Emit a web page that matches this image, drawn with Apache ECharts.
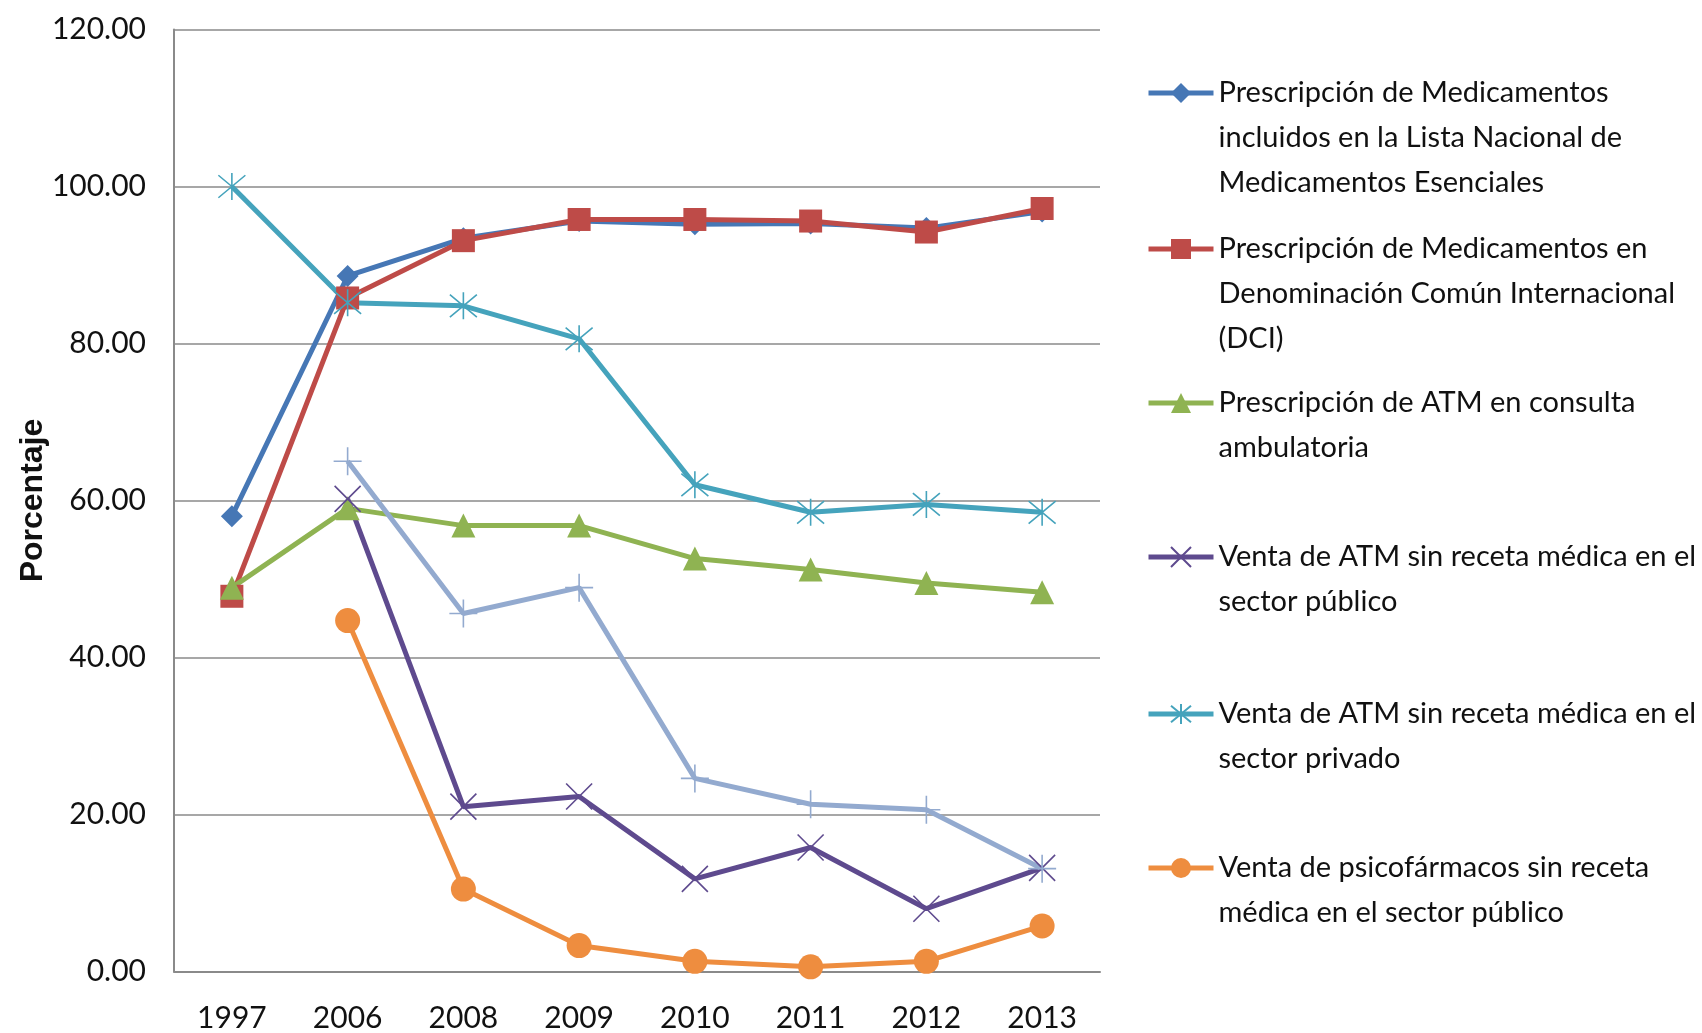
<!DOCTYPE html>
<html>
<head>
<meta charset="utf-8">
<script src="https://cdn.jsdelivr.net/npm/echarts@6/dist/echarts.min.js"></script>
<style>
html,body{margin:0;padding:0;background:#fff;}
#chart{width:1702px;height:1033px;}
</style>
</head>
<body>
<div id="chart"></div>
<script>
// ---- data ----
var categories = ['1997', '2006', '2008', '2009', '2010', '2011', '2012', '2013'];

var seriesNames = [
  'Prescripción de Medicamentos incluidos en la Lista Nacional de Medicamentos Esenciales',
  'Prescripción de Medicamentos en Denominación Común Internacional (DCI)',
  'Prescripción de ATM en consulta ambulatoria',
  'Venta de ATM sin receta médica en el sector público',
  'Venta de ATM sin receta médica en el sector privado',
  'Venta de psicofármacos sin receta médica en el sector público',
  'Serie 7'
];

var legendLines = [
  ['Prescripción de Medicamentos', 'incluidos en la Lista Nacional de', 'Medicamentos Esenciales'],
  ['Prescripción de Medicamentos en', 'Denominación Común Internacional', '(DCI)'],
  ['Prescripción de ATM en consulta', 'ambulatoria'],
  ['Venta de ATM sin receta médica en el', 'sector público'],
  ['Venta de ATM sin receta médica en el', 'sector privado'],
  ['Venta de psicofármacos sin receta', 'médica en el sector público']
];

var lnme      = [58.0, 88.6, 93.4, 95.6, 95.2, 95.3, 94.7, 96.8];
var dci       = [47.8, 85.8, 93.1, 95.8, 95.8, 95.6, 94.2, 97.2];
var atmConsulta = [48.9, 59.0, 56.8, 56.8, 52.6, 51.2, 49.5, 48.3];
var atmPublico  = [null, 60.2, 21.0, 22.3, 11.8, 15.8, 8.0, 13.2];
var atmPrivado  = [100.0, 85.2, 84.8, 80.6, 62.0, 58.5, 59.5, 58.5];
var psicoPublico = [null, 44.7, 10.5, 3.3, 1.3, 0.6, 1.3, 5.8];
var serie7       = [null, 65.0, 45.6, 48.9, 24.6, 21.3, 20.6, 13.1];

var yTicks = { min: 0, max: 120, interval: 20 };

// ---- styles ----
var colors = ['#4677B5', '#BE4B48', '#8FB352', '#5E4A8E', '#45A3BC', '#EE8D3F', '#93AACF'];
var PATH_X = 'path://M0,0L10,10M10,0L0,10';
var PATH_STAR = 'path://M0,0L10,10M10,0L0,10M5,-1L5,11';
var PATH_PLUS = 'path://M5,0L5,10M0,5L10,5';
var symbols = ['diamond', 'rect', 'triangle', PATH_X, PATH_STAR, 'circle', PATH_PLUS];
var symbolSizes = [22, 23, 24, 26, 27, 25, 28];
var strokeOnly = [false, false, false, true, true, false, true];
var values = [lnme, dci, atmConsulta, atmPublico, atmPrivado, psicoPublico, serie7];

var series = values.map(function (d, i) {
  var itemStyle = strokeOnly[i]
    ? { color: colors[i], borderColor: colors[i], borderWidth: 1.6 }
    : { color: colors[i], borderWidth: 0 };
  return {
    name: seriesNames[i],
    type: 'line',
    data: d,
    symbol: symbols[i],
    symbolSize: symbolSizes[i],
    showAllSymbol: true,
    connectNulls: false,
    lineStyle: { color: colors[i], width: 5 },
    itemStyle: itemStyle,
    emphasis: { disabled: true },
    animation: false,
    z: 2
  };
});

// legends: one per entry; leading blank lines keep the marker on the first text line
var legendFirstLineY = [93, 249, 403, 557, 714, 868];
var LH = 45;
var legends = legendLines.map(function (lines, i) {
  var n = lines.length;
  var pad = '';
  for (var k = 1; k < n; k++) pad += '\n';
  return {
    show: true,
    orient: 'vertical',
    left: 1146,
    top: legendFirstLineY[i] - (2 * n - 1) * LH / 2,
    padding: 0,
    itemWidth: 65,
    itemHeight: 25,
    itemGap: 0,
    selectedMode: false,
    lineStyle: { width: 5 },
    data: [{ name: seriesNames[i] }],
    formatter: function () { return pad + lines.join('\n'); },
    textStyle: {
      fontFamily: 'Lato',
      fontSize: 29,
      color: '#111',
      lineHeight: LH
    }
  };
});

var chart = echarts.init(document.getElementById('chart'), null, { renderer: 'canvas' });
chart.setOption({
  backgroundColor: '#ffffff',
  animation: false,
  grid: { left: 174, right: 602, top: 29.5, bottom: 61.5, outerBoundsMode: 'none', containLabel: false },
  legend: legends,
  xAxis: {
    type: 'category',
    data: categories,
    boundaryGap: true,
    axisLine: { show: true, lineStyle: { color: '#8a8a8a', width: 2 } },
    axisTick: { show: false },
    splitLine: { show: false },
    axisLabel: {
      margin: 32,
      fontFamily: 'Lato',
      fontSize: 30,
      color: '#111',
      interval: 0
    }
  },
  yAxis: {
    type: 'value',
    min: yTicks.min,
    max: yTicks.max,
    interval: yTicks.interval,
    name: 'Porcentaje',
    nameLocation: 'middle',
    nameRotate: 90,
    nameGap: 125,
    nameMoveOverlap: false,
    nameTextStyle: { fontFamily: 'Liberation Sans', fontWeight: 'bold', fontSize: 32, color: '#111' },
    axisLine: { show: true, lineStyle: { color: '#8a8a8a', width: 2 } },
    axisTick: { show: false },
    splitLine: { show: true, lineStyle: { color: '#8a8a8a', width: 1.6 } },
    axisLabel: {
      margin: 28,
      fontFamily: 'Lato',
      fontSize: 30,
      color: '#111',
      formatter: function (v) { return v.toFixed(2); }
    }
  },
  series: series
});
</script>
</body>
</html>
